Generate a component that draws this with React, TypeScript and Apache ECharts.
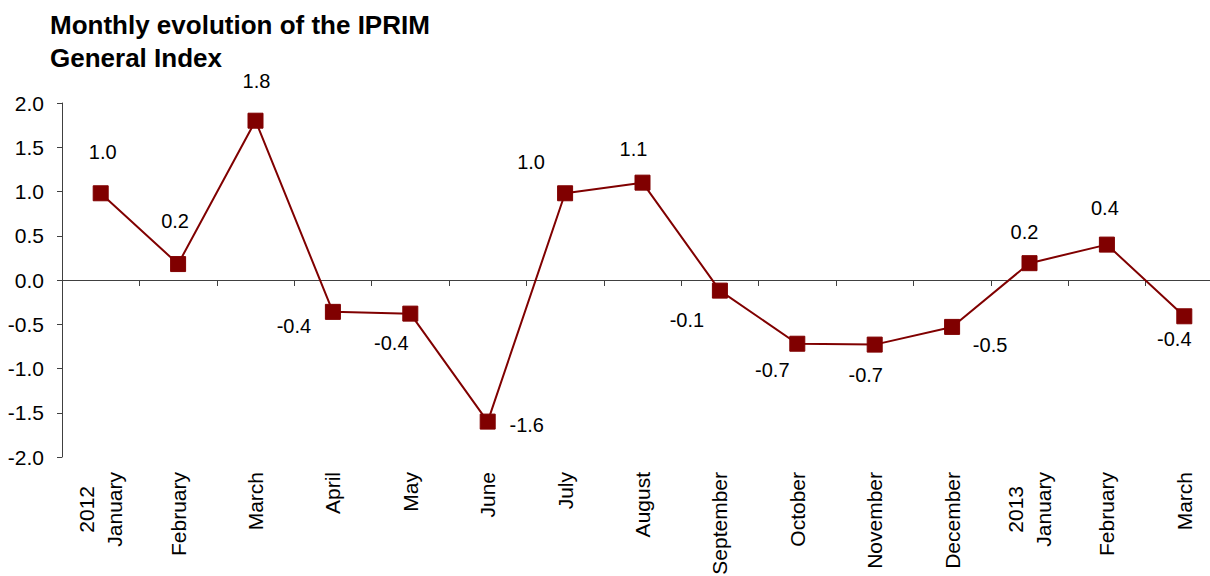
import React, { useEffect, useRef } from "react";
import * as echarts from "echarts";

const titleText = "Monthly evolution of the IPRIM\nGeneral Index";

const categories = [
  "2012\nJanuary",
  "February",
  "March",
  "April",
  "May",
  "June",
  "July",
  "August",
  "September",
  "October",
  "November",
  "December",
  "2013\nJanuary",
  "February",
  "March",
];

const values = [0.98, 0.18, 1.8, -0.36, -0.38, -1.6, 0.98, 1.1, -0.12, -0.72, -0.73, -0.53, 0.19, 0.4, -0.41];

const yTicks = { min: -2, max: 2, interval: 0.5 };

// label placement offsets (px) relative to each marker
const labelOffsets: [number, number][] = [
  [2, -41],
  [-3, -43],
  [1, -40],
  [-39, 14],
  [-19, 29],
  [39, 3],
  [-34, -31],
  [-9, -34],
  [-33, 29],
  [-25, 26],
  [-9, 30],
  [38, 18],
  [-5, -31],
  [-2, -37],
  [-10, 23],
];

const FONT = "'Liberation Sans', Arial, sans-serif";
const RED = "#800000";
const AXIS = "#404040";

export default function App() {
  const ref = useRef<HTMLDivElement>(null);

  useEffect(() => {
    document.body.style.margin = "0";
    if (!ref.current) return;
    const chart = echarts.init(ref.current, null, { renderer: "svg" });

    const option: any = {
      animation: false,
      backgroundColor: "#ffffff",
      textStyle: { fontFamily: FONT },
      title: {
        text: titleText,
        left: 50,
        top: 8,
        padding: 0,
        textStyle: {
          fontFamily: FONT,
          fontSize: 26,
          fontWeight: "bold",
          color: "#000",
          lineHeight: 33,
        },
      },
      grid: {
        left: 62,
        right: -13,
        top: 103,
        bottom: 119,
        containLabel: false,
        outerBoundsMode: "none",
      },
      xAxis: [
        {
          type: "category",
          data: categories,
          boundaryGap: true,
          position: "bottom",
          axisLine: { show: true, onZero: true, lineStyle: { color: AXIS, width: 1 } },
          axisTick: { show: true, length: 6, inside: false, alignWithLabel: false, interval: 0, lineStyle: { color: AXIS } },
          axisLabel: { show: false },
          splitLine: { show: false },
        },
        {
          type: "category",
          data: categories,
          boundaryGap: true,
          position: "bottom",
          axisLine: { show: false, onZero: false },
          axisTick: { show: false },
          splitLine: { show: false },
          axisLabel: {
            show: true,
            interval: 0,
            rotate: 90,
            margin: 15,
            color: "#000",
            fontFamily: FONT,
            fontSize: 21,
            hideOverlap: false,
            formatter: (v: string) =>
              v
                .split("\n")
                .map((s) => `{c|${s}}`)
                .join("\n"),
            rich: {
              c: { align: "center", fontSize: 21, fontFamily: FONT, color: "#000", lineHeight: 28 },
            },
          },
        },
      ],
      yAxis: {
        type: "value",
        min: yTicks.min,
        max: yTicks.max,
        interval: yTicks.interval,
        axisLine: { show: true, lineStyle: { color: AXIS, width: 1 } },
        axisTick: { show: true, length: 5, inside: false, lineStyle: { color: AXIS } },
        splitLine: { show: false },
        axisLabel: {
          color: "#000",
          fontFamily: FONT,
          fontSize: 21,
          margin: 18,
          formatter: (v: number) => v.toFixed(1),
        },
      },
      series: [
        {
          type: "line",
          xAxisIndex: 0,
          yAxisIndex: 0,
          data: values.map((v, i) => ({
            value: v,
            label: { offset: labelOffsets[i] },
          })),
          symbol: "rect",
          symbolSize: 15,
          showAllSymbol: true,
          lineStyle: { color: RED, width: 2 },
          itemStyle: { color: RED, borderColor: RED },
          label: {
            show: true,
            position: "inside",
            align: "center",
            verticalAlign: "middle",
            color: "#000",
            fontFamily: FONT,
            fontSize: 20,
            formatter: (p: any) => Number(p.value).toFixed(1),
          },
          emphasis: { disabled: true },
        },
      ],
    };

    chart.setOption(option);
    return () => {
      chart.dispose();
    };
  }, []);

  return <div ref={ref} style={{ width: 1210, height: 576 }} />;
}
